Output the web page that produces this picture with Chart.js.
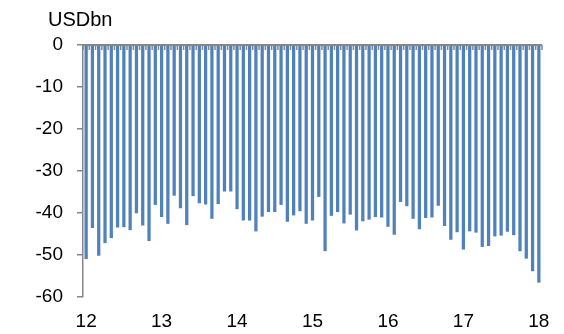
<!DOCTYPE html>
<html>
<head>
<meta charset="utf-8">
<script src="https://cdn.jsdelivr.net/npm/chart.js@4/dist/chart.umd.min.js"></script>
<style>
  html, body { margin: 0; padding: 0; background: #ffffff; }
  #wrap { width: 564px; height: 334px; position: relative; }
</style>
</head>
<body>
<div id="wrap"><canvas id="c" width="564" height="334"></canvas></div>
<script>
// Tick labels (years) shown on the x axis
const yearLabels = ['12', '13', '14', '15', '16', '17', '18'];
// Monthly values, USD bn
const v2012 = [-50.9, -43.5, -50.1, -47.1, -45.9, -43.4, -43.3, -44.0, -40.0, -42.9, -46.6, -38.0];
const v2013 = [-40.9, -42.5, -35.8, -38.8, -42.8, -35.9, -37.6, -37.9, -41.3, -37.8, -34.8, -34.8];
const v2014 = [-39.0, -41.7, -41.7, -44.3, -40.8, -39.7, -39.7, -38.0, -42.0, -40.5, -39.5, -42.5];
const v2015 = [-41.7, -36.1, -49.0, -40.6, -39.7, -42.4, -40.3, -44.1, -41.9, -41.5, -40.9, -41.0];
const v2016 = [-43.2, -45.1, -37.3, -38.3, -41.3, -43.8, -41.1, -41.0, -38.2, -43.0, -46.3, -44.5];
const v2017 = [-48.6, -44.3, -44.6, -48.0, -47.8, -45.5, -45.3, -44.4, -45.2, -49.0, -50.8, -53.8];
const v2018 = [-56.5];
const yTicks = [0, -10, -20, -30, -40, -50, -60];
const unitLabel = 'USDbn';

const series = [v2012, v2013, v2014, v2015, v2016, v2017, v2018];
const categories = [];
const values = [];
series.forEach((arr, yi) => {
  arr.forEach((v, mi) => {
    categories.push(yearLabels[yi] + '-' + String(mi + 1).padStart(2, '0'));
    values.push(v);
  });
});

const FONT = "'Liberation Sans', Arial, sans-serif";
const AXIS = '#868686';

const axisPlugin = {
  id: 'axisPlugin',
  afterDatasetsDraw(chart) {
    const ctx = chart.ctx;
    const xs = chart.scales.x, ys = chart.scales.y;
    const y0 = ys.getPixelForValue(0);
    ctx.save();
    ctx.strokeStyle = AXIS;
    // tick marks at category boundaries
    ctx.lineWidth = 1.5;
    for (let i = 0; i <= categories.length; i++) {
      let px;
      if (i === 0) px = xs.left;
      else if (i === categories.length) px = xs.right;
      else px = (xs.getPixelForValue(i - 1) + xs.getPixelForValue(i)) / 2;
      ctx.beginPath();
      ctx.moveTo(px, y0);
      ctx.lineTo(px, y0 + 5);
      ctx.stroke();
    }
    // zero axis line
    ctx.lineWidth = 2;
    ctx.beginPath();
    ctx.moveTo(xs.left, y0);
    ctx.lineTo(xs.right, y0);
    ctx.stroke();
    ctx.restore();
  },
  afterDraw(chart) {
    const ctx = chart.ctx;
    const ys = chart.scales.y;
    ctx.save();
    ctx.fillStyle = '#000000';
    ctx.font = '20px ' + FONT;
    ctx.textAlign = 'left';
    ctx.textBaseline = 'middle';
    ctx.fillText(unitLabel, ys.left + 48, 20);
    ctx.restore();
  }
};

new Chart(document.getElementById('c'), {
  type: 'bar',
  data: {
    labels: categories,
    datasets: [{
      data: values,
      backgroundColor: '#4F81BD',
      borderWidth: 0,
      barThickness: 2.6
    }]
  },
  options: {
    responsive: false,
    animation: false,
    devicePixelRatio: 1,
    layout: { padding: { left: 0, right: 22, top: 45, bottom: 0 } },
    plugins: { legend: { display: false }, tooltip: { enabled: false } },
    scales: {
      x: {
        type: 'category',
        position: 'bottom',
        offset: true,
        grid: { display: false, drawTicks: false },
        border: { display: false },
        afterFit(scale) { scale.height = 37; },
        ticks: {
          autoSkip: false,
          maxRotation: 0,
          minRotation: 0,
          padding: 13,
          color: '#000000',
          font: { family: FONT, size: 19 },
          callback(value, index) {
            return index % 12 === 0 ? yearLabels[index / 12] : '';
          }
        }
      },
      y: {
        min: -60,
        max: 0,
        afterFit(scale) { scale.width = 83; },
        afterBuildTicks(scale) { scale.ticks = yTicks.map(v => ({ value: v })); },
        grid: { drawOnChartArea: false, drawTicks: true, tickLength: 6, color: AXIS, lineWidth: 1.5 },
        border: { display: true, color: AXIS, width: 1.5 },
        ticks: {
          padding: 14,
          color: '#000000',
          font: { family: FONT, size: 19 }
        }
      }
    }
  },
  plugins: [axisPlugin]
});
</script>
</body>
</html>
